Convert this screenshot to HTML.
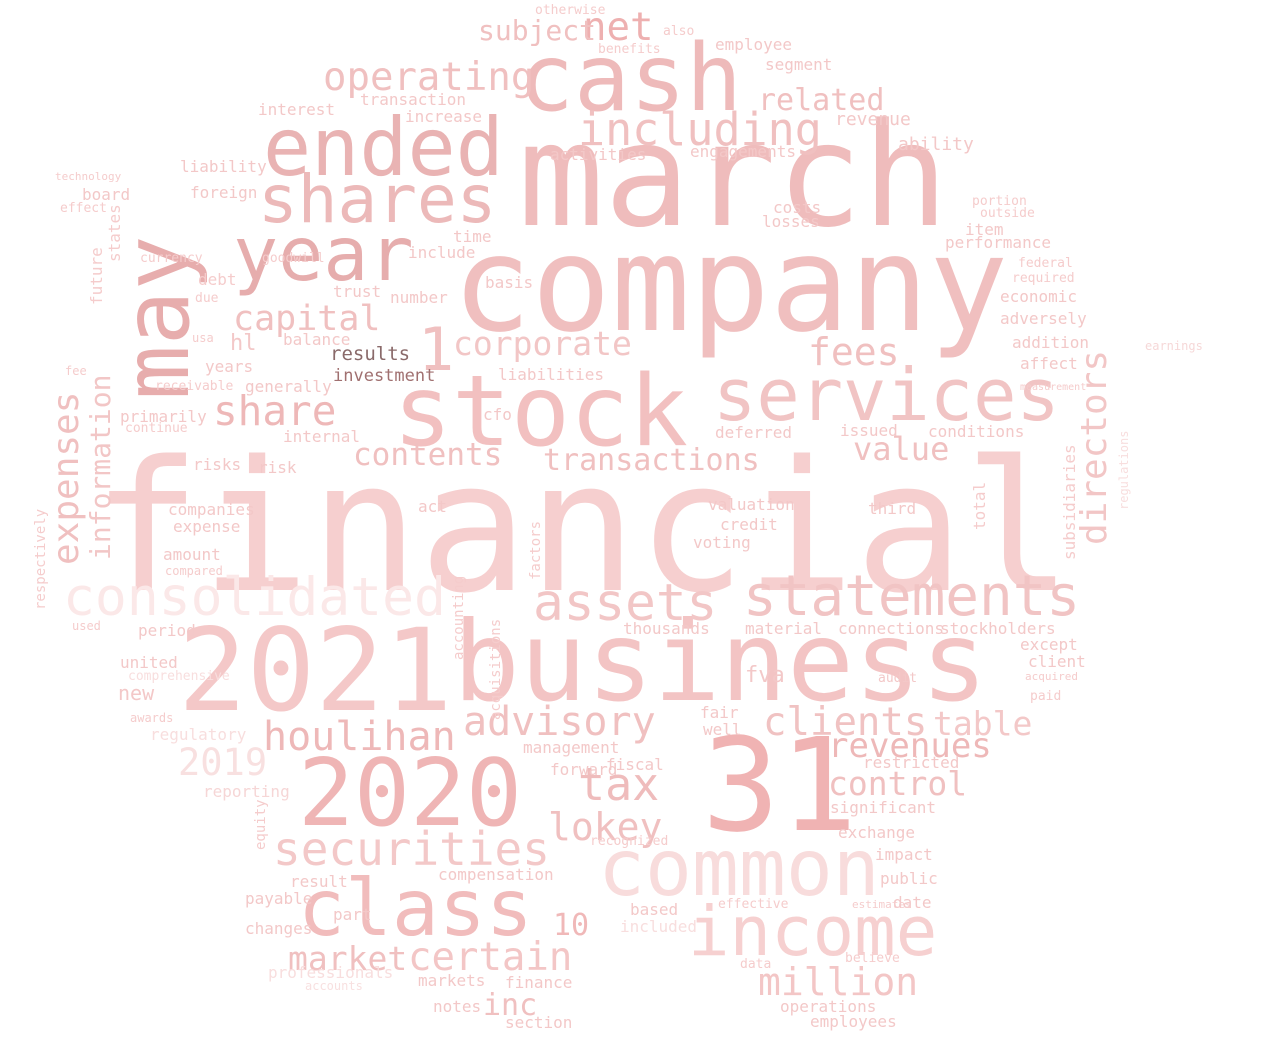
<!DOCTYPE html>
<html><head><meta charset="utf-8"><style>
html,body{margin:0;padding:0;background:#fff;}
svg{display:block;}
text{font-family:"DejaVu Sans Mono","Liberation Mono",monospace;}
</style></head><body>
<svg width="1280" height="1042" viewBox="0 0 1280 1042">
<g>
<text x="92" y="590" font-size="181" fill="#f6cfcf">financial</text>
<text x="452" y="330" font-size="132" fill="#f0bfbf">company</text>
<text x="518" y="225" font-size="143" fill="#efbcbc">march</text>
<text x="393" y="445" font-size="98" fill="#f2c0c0">stock</text>
<text x="453" y="700" font-size="111" fill="#f3c4c4">business</text>
<text x="178" y="710" font-size="114" fill="#f4c8c8">2021</text>
<text x="298" y="825" font-size="93" fill="#efb5b5">2020</text>
<text x="702" y="830" font-size="129" fill="#f0b3b3">31</text>
<text x="598" y="895" font-size="78" fill="#f8dcdc">common</text>
<text x="688" y="955" font-size="69" fill="#f6d0d0">income</text>
<text x="298" y="935" font-size="78" fill="#f1bcbc">class</text>
<text x="518" y="110" font-size="93" fill="#eebaba">cash</text>
<text x="263" y="175" font-size="80" fill="#e9b3b3">ended</text>
<text x="233" y="280" font-size="75" fill="#e6adad">year</text>
<text x="258" y="222" font-size="66" fill="#ecb9b9">shares</text>
<text x="188" y="400" font-size="91" fill="#e7adad" transform="rotate(-90 188 400)">may</text>
<text x="713" y="420" font-size="72" fill="#f1c4c4">services</text>
<text x="743" y="615" font-size="56" fill="#f1c4c4">statements</text>
<text x="63" y="615" font-size="53" fill="#fbe8e8">consolidated</text>
<text x="533" y="620" font-size="51" fill="#f2c6c6">assets</text>
<text x="463" y="735" font-size="40" fill="#f0c0c0">advisory</text>
<text x="273" y="865" font-size="46" fill="#f3c8c8">securities</text>
<text x="263" y="750" font-size="40" fill="#eeb8b8">houlihan</text>
<text x="408" y="970" font-size="39" fill="#f3c6c6">certain</text>
<text x="288" y="970" font-size="33" fill="#f0c0c0">market</text>
<text x="578" y="800" font-size="45" fill="#efbcbc">tax</text>
<text x="548" y="840" font-size="38" fill="#f0c0c0">lokey</text>
<text x="763" y="735" font-size="39" fill="#f0c2c2">clients</text>
<text x="933" y="735" font-size="33" fill="#f3c8c8">table</text>
<text x="828" y="757" font-size="34" fill="#eeb8b8">revenues</text>
<text x="828" y="795" font-size="33" fill="#f0c0c0">control</text>
<text x="758" y="995" font-size="38" fill="#f3c6c6">million</text>
<text x="578" y="145" font-size="45" fill="#f0c0c0">including</text>
<text x="323" y="90" font-size="39" fill="#f0c0c0">operating</text>
<text x="758" y="110" font-size="30" fill="#f0c0c0">related</text>
<text x="583" y="40" font-size="39" fill="#eeb0b0">net</text>
<text x="478" y="40" font-size="28" fill="#f0c0c0">subject</text>
<text x="233" y="330" font-size="35" fill="#f0c0c0">capital</text>
<text x="213" y="425" font-size="41" fill="#eeb8b8">share</text>
<text x="453" y="355" font-size="33" fill="#f2c6c6">corporate</text>
<text x="808" y="365" font-size="38" fill="#f0c0c0">fees</text>
<text x="853" y="460" font-size="32" fill="#f0c0c0">value</text>
<text x="543" y="470" font-size="30" fill="#f0c0c0">transactions</text>
<text x="353" y="465" font-size="31" fill="#f0c0c0">contents</text>
<text x="78" y="565" font-size="36" fill="#f0c0c0" transform="rotate(-90 78 565)">expenses</text>
<text x="110" y="560" font-size="28" fill="#f2c6c6" transform="rotate(-90 110 560)">information</text>
<text x="1106" y="545" font-size="36" fill="#f2c6c6" transform="rotate(-90 1106 545)">directors</text>
<text x="418" y="370" font-size="60" fill="#f0c0c0">1</text>
<text x="553" y="935" font-size="30" fill="#f0b8b8">10</text>
<text x="483" y="1015" font-size="30" fill="#f0c0c0">inc</text>
<text x="178" y="775" font-size="37" fill="#f8e0e0">2019</text>
<text x="330" y="360" font-size="19" fill="#8a6a6a">results</text>
<text x="333" y="381" font-size="17" fill="#a07070">investment</text>
</g>
<g fill="#f3c8c8" font-size="16">
<text x="835" y="125" font-size="18">revenue</text>
<text x="765" y="70">segment</text>
<text x="715" y="50">employee</text>
<text x="360" y="105">transaction</text>
<text x="258" y="115">interest</text>
<text x="405" y="122">increase</text>
<text x="550" y="160">activities</text>
<text x="690" y="157">engagements</text>
<text x="180" y="172">liability</text>
<text x="82" y="200">board</text>
<text x="190" y="198">foreign</text>
<text x="453" y="242">time</text>
<text x="408" y="258">include</text>
<text x="898" y="150" font-size="18">ability</text>
<text x="773" y="213">costs</text>
<text x="762" y="227">losses</text>
<text x="965" y="235">item</text>
<text x="945" y="248">performance</text>
<text x="485" y="288">basis</text>
<text x="333" y="297">trust</text>
<text x="390" y="303">number</text>
<text x="1000" y="302">economic</text>
<text x="1000" y="324">adversely</text>
<text x="1012" y="348">addition</text>
<text x="1020" y="369">affect</text>
<text x="283" y="345">balance</text>
<text x="230" y="350" font-size="22">hl</text>
<text x="205" y="372">years</text>
<text x="498" y="380">liabilities</text>
<text x="245" y="392">generally</text>
<text x="120" y="422">primarily</text>
<text x="283" y="442">internal</text>
<text x="193" y="470">risks</text>
<text x="258" y="473">risk</text>
<text x="168" y="515">companies</text>
<text x="173" y="532">expense</text>
<text x="163" y="560">amount</text>
<text x="483" y="420">cfo</text>
<text x="418" y="512">act</text>
<text x="715" y="438">deferred</text>
<text x="928" y="437">conditions</text>
<text x="840" y="436">issued</text>
<text x="708" y="510">valuation</text>
<text x="720" y="530">credit</text>
<text x="693" y="548">voting</text>
<text x="868" y="514">third</text>
<text x="138" y="636">period</text>
<text x="120" y="668">united</text>
<text x="118" y="700" font-size="20">new</text>
<text x="150" y="740" fill="#f8dede">regulatory</text>
<text x="203" y="797" fill="#f6d6d6">reporting</text>
<text x="523" y="753">management</text>
<text x="606" y="770">fiscal</text>
<text x="550" y="775">forward</text>
<text x="745" y="634">material</text>
<text x="623" y="634">thousands</text>
<text x="838" y="634">connections</text>
<text x="940" y="634">stockholders</text>
<text x="1020" y="650">except</text>
<text x="745" y="682" font-size="22">fva</text>
<text x="700" y="718">fair</text>
<text x="703" y="735">well</text>
<text x="830" y="813">significant</text>
<text x="838" y="838">exchange</text>
<text x="863" y="768">restricted</text>
<text x="875" y="860">impact</text>
<text x="880" y="884">public</text>
<text x="893" y="908">date</text>
<text x="438" y="880">compensation</text>
<text x="290" y="887">result</text>
<text x="245" y="904">payable</text>
<text x="245" y="934">changes</text>
<text x="333" y="920">part</text>
<text x="630" y="915">based</text>
<text x="620" y="932" fill="#f8dede">included</text>
<text x="505" y="988">finance</text>
<text x="418" y="986">markets</text>
<text x="433" y="1012">notes</text>
<text x="780" y="1012">operations</text>
<text x="810" y="1027">employees</text>
<text x="268" y="978" fill="#f8dede">professionals</text>
<text x="505" y="1028">section</text>
<text x="1145" y="350" font-size="12" fill="#f6d8d8">earnings</text>
<text x="878" y="682" font-size="13">audit</text>
<text x="1028" y="667">client</text>
</g>
<g fill="#f5cccc" font-size="11">
<text x="55" y="180">technology</text>
<text x="60" y="212" font-size="13">effect</text>
<text x="120" y="262" font-size="16" transform="rotate(-90 120 262)">states</text>
<text x="102" y="305" font-size="16" transform="rotate(-90 102 305)">future</text>
<text x="140" y="262" font-size="13">currency</text>
<text x="262" y="262" font-size="13">goodwill</text>
<text x="198" y="285" font-size="16">debt</text>
<text x="195" y="302" font-size="13">due</text>
<text x="192" y="342" font-size="12">usa</text>
<text x="65" y="375" font-size="12">fee</text>
<text x="155" y="390" font-size="13">receivable</text>
<text x="125" y="432" font-size="13">continue</text>
<text x="45" y="610" font-size="14" transform="rotate(-90 45 610)">respectively</text>
<text x="165" y="575" font-size="12">compared</text>
<text x="72" y="630" font-size="12">used</text>
<text x="128" y="680" font-size="13" fill="#f8dede">comprehensive</text>
<text x="130" y="722" font-size="12">awards</text>
<text x="265" y="850" font-size="14" transform="rotate(-90 265 850)">equity</text>
<text x="1020" y="390" font-size="10">measurement</text>
<text x="1018" y="267" font-size="13">federal</text>
<text x="1012" y="282" font-size="13">required</text>
<text x="972" y="205" font-size="13">portion</text>
<text x="980" y="217" font-size="13">outside</text>
<text x="1030" y="700" font-size="13">paid</text>
<text x="1025" y="680" font-size="11">acquired</text>
<text x="1128" y="510" font-size="12" fill="#f8dede" transform="rotate(-90 1128 510)">regulations</text>
<text x="1075" y="560" font-size="16" transform="rotate(-90 1075 560)">subsidiaries</text>
<text x="985" y="530" font-size="16" transform="rotate(-90 985 530)">total</text>
<text x="305" y="990" font-size="12" fill="#f8e0e0">accounts</text>
<text x="740" y="968" font-size="13">data</text>
<text x="845" y="962" font-size="13">believe</text>
<text x="852" y="908" font-size="11">estimates</text>
<text x="718" y="908" font-size="13">effective</text>
<text x="590" y="845" font-size="13">recognized</text>
<text x="463" y="660" font-size="14" transform="rotate(-90 463 660)">accounting</text>
<text x="500" y="720" font-size="14" transform="rotate(-90 500 720)">acquisitions</text>
<text x="540" y="580" font-size="14" transform="rotate(-90 540 580)">factors</text>
<text x="535" y="14" font-size="13">otherwise</text>
<text x="598" y="53" font-size="13">benefits</text>
<text x="663" y="35" font-size="13">also</text>
</g>
</svg>
</body></html>
